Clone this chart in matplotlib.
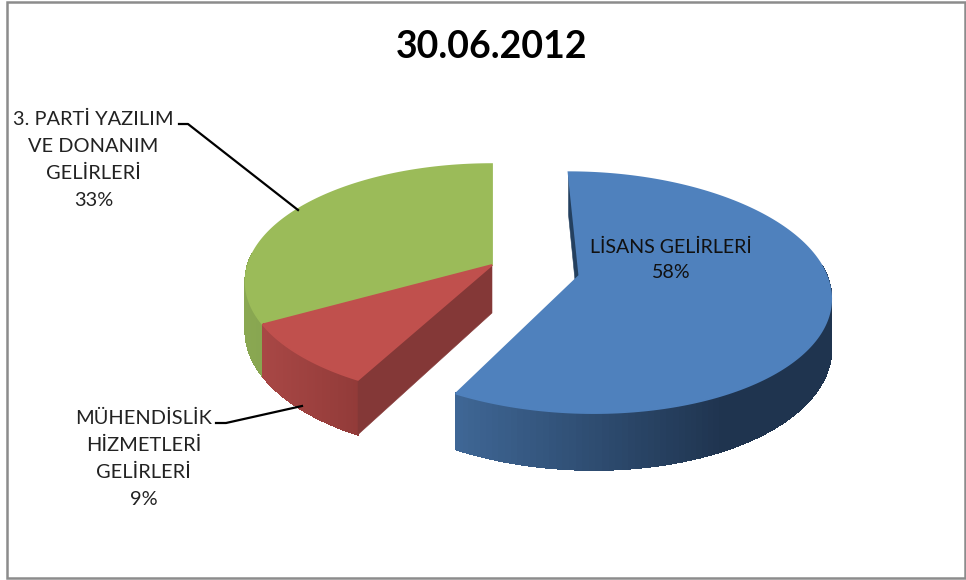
import numpy as np
import matplotlib
matplotlib.use('Agg')
import matplotlib.pyplot as plt
from matplotlib.patches import Rectangle

plt.rcParams['font.family'] = ['Lato', 'DejaVu Sans']

title = '30.06.2012'
categories = ['LİSANS GELİRLERİ', 'MÜHENDİSLİK\nHİZMETLERİ\nGELİRLERİ', '3. PARTİ YAZILIM\nVE DONANIM\nGELİRLERİ']
values = [58, 9, 33]
explode = [0.365, 0, 0]

top_colors = ['#4f81bd', '#c0504d', '#9bbb59']
side_light = ['#3f6796', '#a84745', '#8aa852']
side_dark = ['#1f344f', '#923b39', '#82a04c']
radial_colors = ['#24405f', '#843837', None]

# projection of the pie plane to pixels
cx, cy = 492, 265
a, b = 244, 115
k = 0.14
depth = 48


def project(u, v):
    s = 1 / (1 + k * v)
    return cx + a * u * s, cy - b * v * s, s


def top_face(start, end, du, dv):
    th = np.linspace(start, end, 200)
    x, y, s = project(du + np.sin(th), dv + np.cos(th))
    ax0, ay0, s0 = project(du, dv)
    return np.r_[ax0, x], np.r_[ay0, y]


def draw_side(ax, start, end, du, dv, light, dark, x_dark):
    th = np.linspace(start, end, 160)
    th = th[np.cos(th) < 0.1]  # the back of the rim is hidden by the top
    x, y, s = project(du + np.sin(th), dv + np.cos(th))
    c0 = np.array(matplotlib.colors.to_rgb(light))
    c1 = np.array(matplotlib.colors.to_rgb(dark))
    x_min = x.min()
    for i in range(len(th) - 1):
        t = np.clip((x[i] - x_min) / (x_dark - x_min), 0, 1)
        c = c0 + (c1 - c0) * t
        ax.fill([x[i], x[i + 1], x[i + 1], x[i]],
                [y[i], y[i + 1], y[i + 1] + depth * s[i + 1], y[i] + depth * s[i]],
                fc=c, ec=c, lw=1.0, antialiased=False)


def draw_radial(ax, angle, du, dv, color):
    x0, y0, s0 = project(du, dv)
    x1, y1, s1 = project(du + np.sin(angle), dv + np.cos(angle))
    ax.fill([x0, x1, x1, x0], [y0, y1, y1 + depth * s1, y0 + depth * s0], color=color, lw=0.4)


fig = plt.figure(figsize=(9.66, 5.8), dpi=100)
ax = fig.add_axes([0, 0, 1, 1])
ax.set_xlim(0, 966)
ax.set_ylim(580, 0)
ax.axis('off')

ax.add_patch(Rectangle((6.5, 1.5), 958, 576.5, fill=False, ec='#8c8c8c', lw=1.8))

edges = np.r_[0, np.cumsum(values)] / sum(values) * 2 * np.pi
mid = (edges[:-1] + edges[1:]) / 2
offs_u = np.array(explode) * np.sin(mid)
offs_v = np.array(explode) * np.cos(mid)

# back to front: green, red, blue
x_dark = [725, 357, 300]
for i in [2, 1, 0]:
    draw_side(ax, edges[i], edges[i + 1], offs_u[i], offs_v[i], side_light[i], side_dark[i], x_dark[i])
    if radial_colors[i]:
        draw_radial(ax, edges[i], offs_u[i], offs_v[i], radial_colors[i])
    xs, ys = top_face(edges[i], edges[i + 1], offs_u[i], offs_v[i])
    ax.fill(xs, ys, color=top_colors[i], lw=1.3)

ax.text(492, 47, title, fontsize=27, fontweight='bold', ha='center', va='center', color='black')

ax.text(671, 260, f'{categories[0]}\n{values[0]}%', fontsize=14.1, ha='center', va='center', linespacing=1.6, color='#111111')
ax.text(143.5, 459, f'{categories[1]}\n{values[1]}%', fontsize=14.4, ha='center', va='center', linespacing=1.7, color='#222222')
ax.text(93.5, 160, f'{categories[2]}\n{values[2]}%', fontsize=14.4, ha='center', va='center', linespacing=1.7, color='#222222')

# leader lines
ax.plot([179, 188, 298], [124, 124, 210], color='black', lw=1.6)
ax.plot([216, 226, 302], [423, 423, 406], color='black', lw=1.6)

fig.savefig('out.png', dpi=100)
